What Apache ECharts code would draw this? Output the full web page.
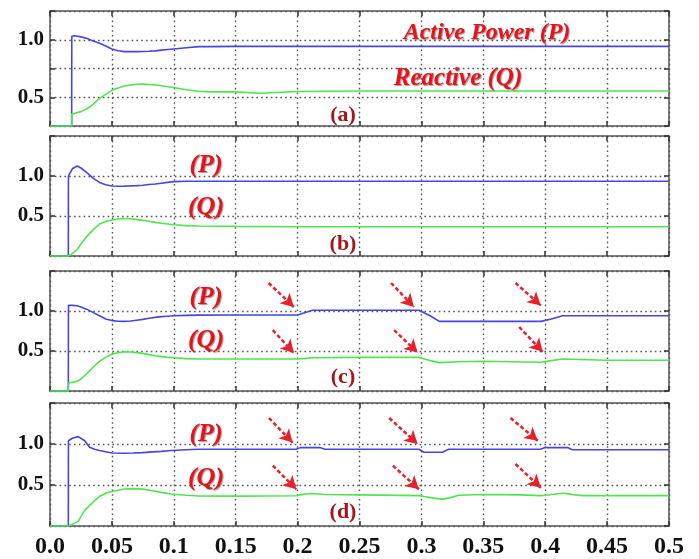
<!DOCTYPE html>
<html>
<head>
<meta charset="utf-8">
<script src="https://cdn.jsdelivr.net/npm/echarts@6.0.0/dist/echarts.min.js"></script>
<style>
html,body{margin:0;padding:0;background:#fff;}
#chart{width:699px;height:559px;}
</style>
</head>
<body>
<div id="chart"></div>
<script>
// ---------- DATA ----------
var xTickLabels = ['0.0','0.05','0.1','0.15','0.2','0.25','0.3','0.35','0.4','0.45','0.5'];
var yTickLabels = {'0.5':'0.5','1':'1.0'};

// Panel (a)
var tA = [0,0.0175,0.0176,0.020,0.025,0.030,0.035,0.040,0.045,0.050,0.055,0.060,0.065,0.070,0.075,0.080,0.085,0.090,0.095,0.100,0.110,0.120,0.130,0.150,0.170,0.200,0.250,0.300,0.350,0.400,0.450,0.500];
var pA = [0.25,0.25,1.03,1.035,1.025,1.01,0.99,0.97,0.945,0.92,0.905,0.897,0.897,0.897,0.898,0.90,0.903,0.91,0.915,0.92,0.93,0.94,0.94,0.942,0.942,0.942,0.942,0.942,0.942,0.942,0.942,0.942];
var qA = [0.25,0.25,0.357,0.36,0.375,0.40,0.44,0.49,0.525,0.56,0.58,0.598,0.607,0.613,0.614,0.611,0.606,0.60,0.592,0.585,0.565,0.552,0.547,0.547,0.535,0.55,0.555,0.555,0.555,0.555,0.555,0.555];

// Panel (b)
var tB = [0,0.0148,0.0149,0.018,0.022,0.025,0.030,0.035,0.040,0.045,0.050,0.055,0.060,0.065,0.070,0.075,0.080,0.085,0.090,0.095,0.100,0.110,0.120,0.150,0.200,0.300,0.400,0.500];
var pB = [0,0,1.0,1.09,1.125,1.10,1.04,0.97,0.92,0.89,0.875,0.872,0.873,0.876,0.88,0.885,0.893,0.90,0.91,0.92,0.93,0.935,0.935,0.935,0.935,0.935,0.935,0.935];
var qB = [0,0,0,0.03,0.08,0.15,0.25,0.33,0.40,0.43,0.45,0.462,0.467,0.465,0.455,0.445,0.435,0.42,0.41,0.40,0.39,0.38,0.375,0.37,0.365,0.365,0.365,0.365];

// Panel (c)
var tC = [0,0.0148,0.0149,0.018,0.022,0.025,0.030,0.035,0.040,0.045,0.050,0.055,0.060,0.065,0.070,0.075,0.080,0.085,0.090,0.095,0.100,0.110,0.120,0.150,0.200,0.205,0.212,0.250,0.298,0.307,0.3145,0.330,0.350,0.3965,0.405,0.414,0.450,0.500];
var pC = [0,0,1.07,1.07,1.065,1.05,1.02,0.98,0.94,0.90,0.88,0.872,0.87,0.875,0.885,0.895,0.91,0.92,0.93,0.935,0.94,0.945,0.948,0.95,0.95,0.975,1.01,1.01,1.01,0.94,0.87,0.87,0.87,0.87,0.90,0.94,0.94,0.94];
var qC = [0,0,0.10,0.11,0.12,0.15,0.22,0.30,0.37,0.42,0.46,0.48,0.49,0.488,0.48,0.47,0.455,0.44,0.43,0.42,0.415,0.405,0.40,0.40,0.40,0.405,0.415,0.42,0.42,0.38,0.355,0.365,0.372,0.36,0.38,0.40,0.385,0.385];

// Panel (d)
var tD = [0,0.0148,0.0149,0.018,0.0228,0.028,0.032,0.036,0.040,0.045,0.050,0.060,0.067,0.075,0.083,0.090,0.098,0.110,0.120,0.150,0.199,0.202,0.210,0.218,0.222,0.250,0.298,0.302,0.310,0.317,0.322,0.330,0.350,0.380,0.396,0.400,0.414,0.418,0.422,0.430,0.450,0.500];
var pD = [0,0,1.04,1.07,1.09,1.04,0.96,0.935,0.92,0.905,0.89,0.888,0.89,0.895,0.904,0.91,0.92,0.93,0.936,0.936,0.936,0.956,0.956,0.956,0.936,0.936,0.936,0.90,0.90,0.90,0.936,0.936,0.936,0.936,0.936,0.956,0.956,0.956,0.93,0.93,0.93,0.93];
var qD = [0,0,0,0.02,0.056,0.19,0.25,0.31,0.36,0.40,0.42,0.452,0.456,0.45,0.43,0.41,0.39,0.375,0.366,0.364,0.368,0.38,0.396,0.39,0.385,0.38,0.37,0.36,0.34,0.328,0.34,0.375,0.384,0.38,0.37,0.375,0.40,0.395,0.385,0.37,0.37,0.37];

// Arrow annotations [x0, y0, x1, y1] in data space
var arrowsC = [[0.1766,1.35,0.197,1.05],[0.18,0.76,0.197,0.475],[0.2755,1.35,0.294,1.05],[0.278,0.76,0.297,0.48],[0.376,1.35,0.3965,1.07],[0.379,0.80,0.398,0.49]];
var arrowsD = [[0.1769,1.317,0.196,1.017],[0.18,0.736,0.199,0.448],[0.274,1.317,0.297,1.0],[0.277,0.736,0.298,0.448],[0.372,1.317,0.394,1.04],[0.376,0.756,0.3965,0.465]];

// ---------- BUILD ----------
function zip(t, v){ return t.map(function(x,i){ return [x, v[i]]; }); }

var panels = [
  {t:tA, p:pA, q:qA, min:0.25, max:1.25, interval:0.25, top:11, height:115, arrows:null},
  {t:tB, p:pB, q:qB, min:0, max:1.5, interval:0.5, top:136, height:120, arrows:null},
  {t:tC, p:pC, q:qC, min:0, max:1.5, interval:0.5, top:271, height:120, arrows:arrowsC},
  {t:tD, p:pD, q:qD, min:0, max:1.5, interval:0.5, top:403, height:125, arrows:arrowsD}
];

function frame(){ return {show:true, onZero:false, lineStyle:{color:'#555', width:1.5}}; }
function tick(){ return {show:true, inside:true, length:5, lineStyle:{color:'#333', width:1.5}}; }
function dotted(){ return {show:true, lineStyle:{type:[1.6,3.2], color:'#555', width:1.4}}; }

var grid = [], xAxis = [], yAxis = [], series = [];
panels.forEach(function(pn, i){
  grid.push({left:50, width:619, top:pn.top, height:pn.height});
  xAxis.push({type:'value', gridIndex:i, min:0, max:0.5, interval:0.05, position:'bottom',
    axisLine:frame(), axisTick:tick(), splitLine:dotted(),
    axisLabel:{show:i===3, margin:9, color:'#111', fontFamily:'Liberation Serif', fontWeight:'bold', fontSize:24,
      formatter:function(v){ return xTickLabels[Math.round(v/0.05)]; }}});
  xAxis.push({type:'value', gridIndex:i, min:0, max:0.5, interval:0.05, position:'top',
    axisLine:frame(), axisTick:tick(), splitLine:{show:false}, axisLabel:{show:false}});
  yAxis.push({type:'value', gridIndex:i, min:pn.min, max:pn.max, interval:pn.interval, position:'left',
    axisLine:frame(), axisTick:tick(), splitLine:dotted(),
    axisLabel:{show:true, margin:6, color:'#111', fontFamily:'Liberation Serif', fontWeight:'bold', fontSize:21,
      formatter:function(v){ var k = String(Math.round(v*100)/100); return yTickLabels[k] || ''; }}});
  yAxis.push({type:'value', gridIndex:i, min:pn.min, max:pn.max, interval:pn.interval, position:'right',
    axisLine:frame(), axisTick:tick(), splitLine:{show:false}, axisLabel:{show:false}});

  var pSeries = {type:'line', xAxisIndex:2*i, yAxisIndex:2*i, data:zip(pn.t, pn.p), showSymbol:false,
    lineStyle:{color:'#4646dc', width:1.6}, itemStyle:{color:'#4646dc'}, z:2, clip:true};
  if (pn.arrows){
    pSeries.markLine = {silent:true, symbol:['none','arrow'], symbolSize:[11,13], z:5,
      label:{show:false},
      lineStyle:{type:[4,2.5], color:'#e8202a', width:2.5},
      itemStyle:{color:'#e8202a'},
      data: pn.arrows.map(function(a){ return [{coord:[a[0],a[1]]},{coord:[a[2],a[3]]}]; })};
  }
  series.push(pSeries);
  series.push({type:'line', xAxisIndex:2*i, yAxisIndex:2*i, data:zip(pn.t, pn.q), showSymbol:false,
    lineStyle:{color:'#4ee64e', width:1.6}, itemStyle:{color:'#4ee64e'}, z:3, clip:false});
});

function redText(txt, x, y, size){
  return {type:'text', x:x, y:y, z:100, style:{text:txt, fill:'#e3141c',
    font:'italic bold '+size+'px "Liberation Serif"', align:'center', verticalAlign:'middle',
    textShadowColor:'rgba(90,0,0,0.45)', textShadowOffsetX:1, textShadowOffsetY:1, textShadowBlur:1}};
}
function panelText(txt, x, y){
  return {type:'text', x:x, y:y, z:100, style:{text:txt, fill:'#a3171c',
    font:'bold 22px "Liberation Serif"', align:'center', verticalAlign:'middle'}};
}

var graphic = [
  redText('Active Power (P)', 487, 33, 24),
  redText('Reactive (Q)', 458, 79, 25),
  panelText('(a)', 343, 115),
  redText('(P)', 206, 165, 26), redText('(Q)', 206, 207, 26), panelText('(b)', 343, 244),
  redText('(P)', 206, 297, 26), redText('(Q)', 206, 340, 26), panelText('(c)', 343, 377),
  redText('(P)', 206, 434, 26), redText('(Q)', 206, 478, 26), panelText('(d)', 343, 512)
];

var chart = echarts.init(document.getElementById('chart'));
chart.setOption({
  backgroundColor:'#fff',
  animation:false,
  grid:grid, xAxis:xAxis, yAxis:yAxis, series:series, graphic:graphic
});
</script>
</body>
</html>
